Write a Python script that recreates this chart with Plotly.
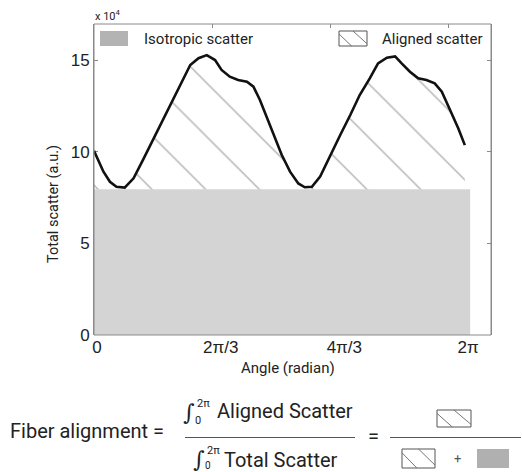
import math
import plotly.graph_objects as go

# ---------------- data (scatter in units of 1e4) ----------------
angle = [0.00, 0.16, 0.27, 0.38, 0.52, 0.67, 0.83, 1.00, 1.17, 1.34, 1.51, 1.63,
         1.77, 1.91, 2.05, 2.16, 2.30, 2.44, 2.59, 2.70, 2.81, 2.92, 3.04, 3.18,
         3.32, 3.46, 3.57, 3.69, 3.83, 4.00, 4.17, 4.34, 4.50, 4.67, 4.81, 4.96,
         5.10, 5.21, 5.35, 5.49, 5.63, 5.77, 5.89, 6.03, 6.17, 6.28]
total_scatter = [10.05, 8.91, 8.36, 8.09, 8.04, 8.55, 9.55, 10.64, 11.73, 12.91, 14.00, 14.73,
                 15.10, 15.27, 15.00, 14.46, 14.09, 13.91, 13.82, 13.55, 12.82, 11.91, 11.00, 9.82,
                 8.91, 8.27, 8.06, 8.09, 8.64, 9.82, 10.91, 12.00, 13.09, 14.00, 14.82, 15.13,
                 15.20, 14.82, 14.36, 14.00, 13.91, 13.73, 13.27, 12.27, 11.27, 10.36]
isotropic_level = 7.95
isotropic_end = 6.37

xtick_vals = [0, 2 * math.pi / 3, 4 * math.pi / 3, 2 * math.pi]
xtick_text = ["0", "2π/3", "4π/3", "2π"]
xminor_vals = [0, 2, 4, 6]
ytick_vals = [0, 5, 10, 15]
ytick_text = ["0", "5", "10", "15"]

# ---------------- geometry helpers ----------------
W, H = 522, 472
L, R, T, B = 94, 31, 24, 137
PW, PH = W - L - R, H - T - B
X_MAX = PW / 59.05
Y_MAX = PH / 18.33


def px(x):
    return (x - L) / PW


def py(y):
    return (H - B - y) / PH


TICK_FONT = dict(family="Liberation Sans, Arial", size=17, color="#222222")
TXT = "Roboto"

fig = go.Figure()
# isotropic (gray) block
fig.add_trace(go.Scatter(x=[0, isotropic_end], y=[isotropic_level, isotropic_level],
                         mode="lines", line=dict(width=0), fill="tozeroy",
                         fillcolor="#d4d4d4", hoverinfo="skip", showlegend=False))
# baseline for aligned part
fig.add_trace(go.Scatter(x=[angle[0], angle[-1]], y=[isotropic_level, isotropic_level],
                         mode="lines", line=dict(width=0), hoverinfo="skip", showlegend=False))
# total scatter curve with hatched aligned area
fig.add_trace(go.Scatter(x=angle, y=total_scatter, mode="lines",
                         line=dict(color="#111111", width=2.6),
                         fill="tonexty", fillcolor="rgba(0,0,0,0)",
                         fillpattern=dict(shape="\\", size=38, solidity=0.034,
                                          fgcolor="#5a5a5a", bgcolor="rgba(0,0,0,0)"),
                         showlegend=False))
# dummy trace for the top tick axis
fig.add_trace(go.Scatter(x=[0], y=[0], xaxis="x2", mode="markers",
                         marker=dict(opacity=0), hoverinfo="skip", showlegend=False))

fig.update_layout(
    width=W, height=H, margin=dict(l=L, r=R, t=T, b=B),
    paper_bgcolor="white", plot_bgcolor="white", showlegend=False,
    xaxis=dict(range=[0, X_MAX], tickvals=xtick_vals, ticktext=xtick_text,
               ticks="", showgrid=False, zeroline=False, showline=False,
               tickfont=TICK_FONT, ticklabelshift=3, layer="below traces"),
    xaxis2=dict(range=[0, X_MAX], overlaying="x", side="top", anchor="y",
                tickvals=xminor_vals, showticklabels=False, ticks="inside",
                ticklen=4, tickcolor="#8a8a8a", showgrid=False, zeroline=False,
                showline=False),
    yaxis=dict(range=[0, Y_MAX], tickvals=ytick_vals, ticktext=ytick_text,
               ticks="inside", ticklen=4, tickcolor="#8a8a8a", mirror="ticks",
               showline=True, linecolor="#8a8a8a", showgrid=False, zeroline=False,
               tickfont=TICK_FONT, layer="below traces"),
)

shapes = []
# plot frame
shapes.append(dict(type="rect", xref="paper", yref="paper", x0=0, x1=1, y0=0, y1=1,
                   line=dict(color="#8a8a8a", width=1), layer="above"))


def hatch_box(x0, y0, x1, y1, lw=1.0):
    w, h = x1 - x0, y1 - y0
    out = [dict(type="rect", xref="paper", yref="paper", x0=px(x0), x1=px(x1),
                y0=py(y1), y1=py(y0), line=dict(color="#555555", width=lw),
                fillcolor="white", layer="above")]
    for (ax, ay, bx, by) in [(x0, y0 + 0.2 * h, x0 + 0.45 * w, y1),
                             (x0 + 0.5 * w, y0, x1, y0 + 0.85 * h)]:
        out.append(dict(type="line", xref="paper", yref="paper", x0=px(ax), y0=py(ay),
                        x1=px(bx), y1=py(by), line=dict(color="#666666", width=0.9),
                        layer="above"))
    return out


def gray_box(x0, y0, x1, y1, color):
    return dict(type="rect", xref="paper", yref="paper", x0=px(x0), x1=px(x1),
                y0=py(y1), y1=py(y0), line=dict(width=0), fillcolor=color, layer="above")


# legend
shapes.append(gray_box(100, 31, 128, 46, "#b3b3b3"))
shapes += hatch_box(339, 31, 367, 46)
# formula
shapes.append(dict(type="line", xref="paper", yref="paper", x0=px(185), x1=px(355),
                   y0=py(437.5), y1=py(437.5), line=dict(color="#555555", width=1)))
shapes.append(dict(type="line", xref="paper", yref="paper", x0=px(390), x1=px(521),
                   y0=py(437.5), y1=py(437.5), line=dict(color="#555555", width=1)))
shapes += hatch_box(437, 410, 471, 427)
shapes += hatch_box(402, 449, 435, 468)
shapes.append(gray_box(477, 449, 509, 468, "#b0b0b0"))
fig.update_layout(shapes=shapes)

ann = []


def text(s, x, y, size, xanchor="left", family=TXT, color="#222222", angle=0):
    ann.append(dict(text=s, x=px(x), y=py(y), xref="paper", yref="paper",
                    xanchor=xanchor, yanchor="middle", showarrow=False,
                    textangle=angle, font=dict(family=family, size=size, color=color)))


text("x 10<sup>4</sup>", 93, 15, 11)
text("Isotropic scatter", 142, 39, 15)
text("Aligned scatter", 380, 39, 15)
text("Total scatter (a.u.)", 53, 204, 14.5, xanchor="center", angle=-90)
text("Angle (radian)", 287.5, 368, 15, xanchor="center")

# formula texts
text("Fiber alignment =", 8, 431, 20)
text("∫", 189, 412, 22, xanchor="center", family="DejaVu Serif")
text("2π", 195, 403, 11)
text("0", 193, 420, 11)
text("Aligned Scatter", 215, 411, 20)
text("∫", 199, 459, 22, xanchor="center", family="DejaVu Serif")
text("2π", 205, 450, 11)
text("0", 203, 465, 10)
text("Total Scatter", 222, 460, 20)
text("=", 373, 436, 20, xanchor="center")
text("+", 457, 458, 13, xanchor="center", color="#555555")
fig.update_layout(annotations=ann)

fig.write_html("out.html")
